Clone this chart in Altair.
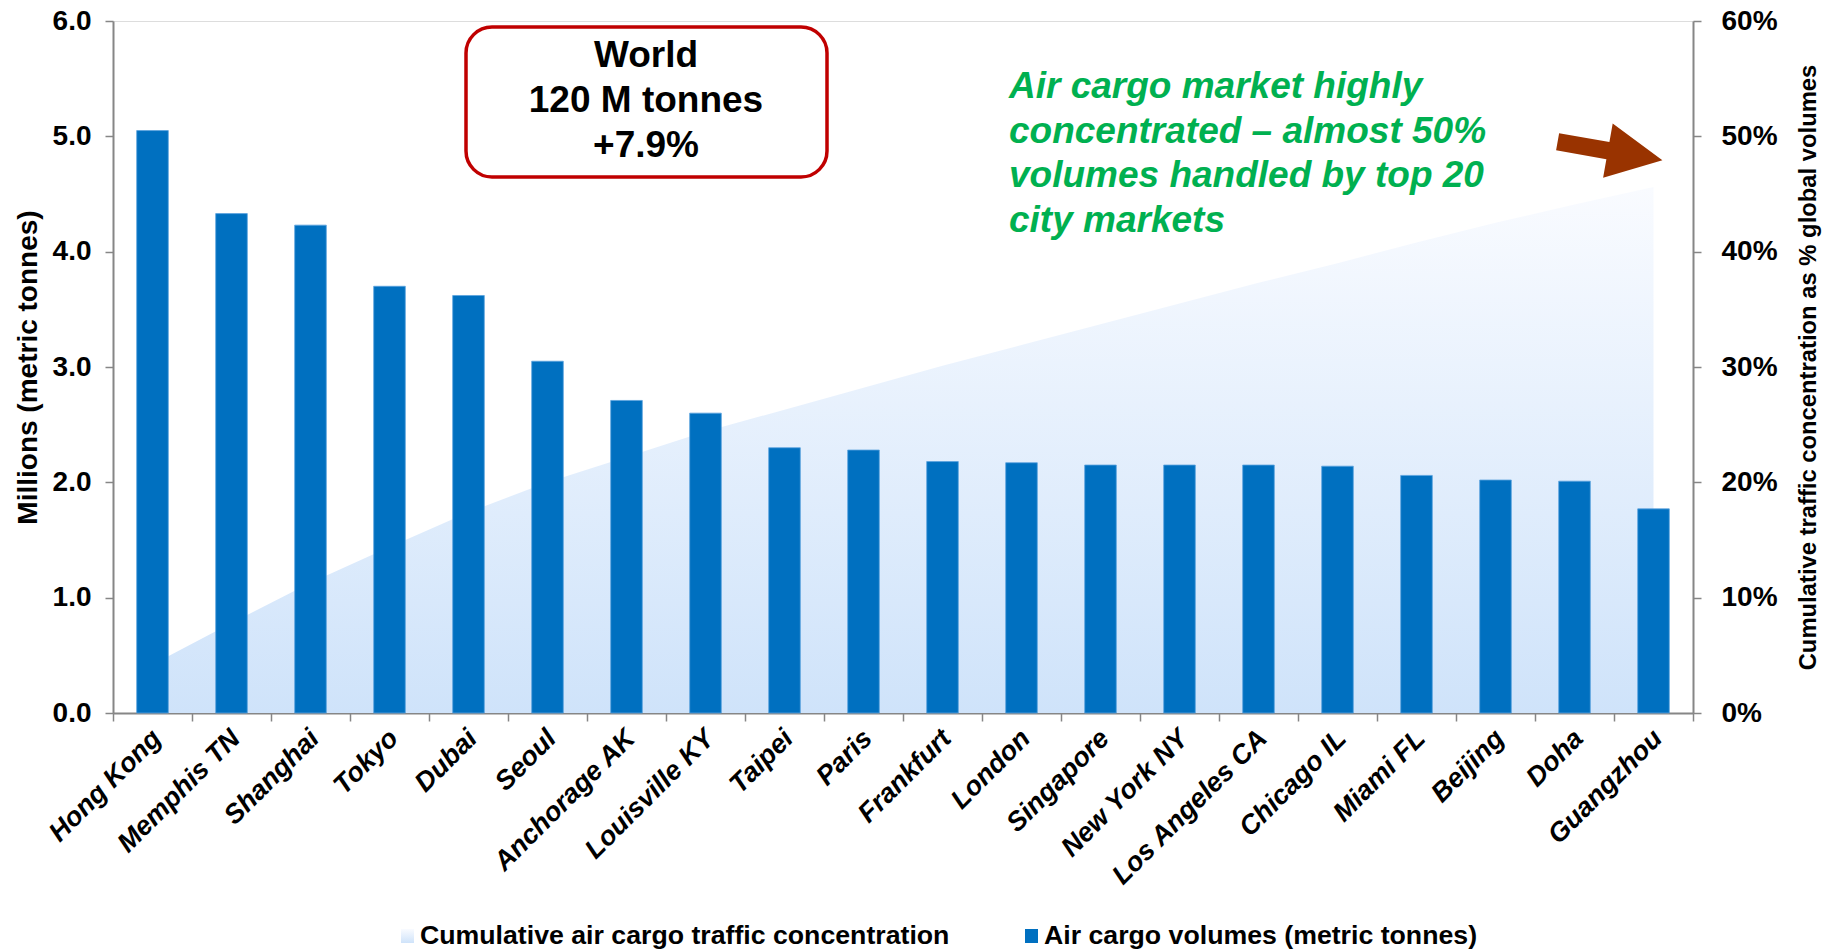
import altair as alt
import pandas as pd

cities = ["Hong Kong", "Memphis TN", "Shanghai", "Tokyo", "Dubai", "Seoul",
          "Anchorage AK", "Louisville KY", "Taipei", "Paris", "Frankfurt", "London",
          "Singapore", "New York NY", "Los Angeles CA", "Chicago IL", "Miami FL",
          "Beijing", "Doha", "Guangzhou"]
volumes = [5.05, 4.33, 4.23, 3.70, 3.62, 3.05, 2.71, 2.60, 2.30, 2.28, 2.18, 2.17,
           2.15, 2.15, 2.15, 2.14, 2.06, 2.02, 2.01, 1.77]
cumulative_pct = [4.2, 7.8, 11.3, 14.4, 17.4, 20.0, 22.2, 24.4, 26.3, 28.2, 30.1, 31.9,
                  33.7, 35.5, 37.3, 39.0, 40.8, 42.5, 44.1, 45.6]

left_ticks = [0, 1, 2, 3, 4, 5, 6]
right_ticks = [0, 10, 20, 30, 40, 50, 60]

world_text = "World\n120 M tonnes\n+7.9%"
note_text = "Air cargo market highly\nconcentrated \u2013 almost 50%\nvolumes handled by top 20\ncity markets"
legend_area_label = "Cumulative air cargo traffic concentration"
legend_bar_label = "Air cargo volumes (metric tonnes)"

df = pd.DataFrame({"city": cities, "volume": volumes, "cum": cumulative_pct})
one = pd.DataFrame({"a": [0]})

FONT = "Liberation Sans"
AXIS_GREY = "#868686"

grad_fill = alt.Gradient(
    gradient="linear",
    stops=[alt.GradientStop(color="#f9fbff", offset=0),
           alt.GradientStop(color="#cfe3fa", offset=1)],
    x1=0, x2=0, y1=0, y2=1,
)

x_enc = alt.X(
    "city:N", sort=cities,
    scale=alt.Scale(paddingInner=0, paddingOuter=0),
    axis=alt.Axis(
        title=None, labelAngle=-45, labelAlign="right", labelBaseline="middle",
        labelFont=FONT, labelFontSize=27, labelFontWeight="bold", labelFontStyle="italic",
        labelColor="black", labelPadding=13, labelOffset=4,
        tickBand="extent", tickSize=8, tickColor=AXIS_GREY, tickWidth=1.5,
        domainColor=AXIS_GREY, domainWidth=2, labelLimit=400,
    ),
)

area = alt.Chart(df).mark_area(color=grad_fill, opacity=1).encode(
    x=x_enc,
    y=alt.Y(
        "cum:Q",
        scale=alt.Scale(domain=[0, 60], nice=False),
        axis=alt.Axis(
            orient="right", values=right_ticks, labelExpr="datum.value + '%'",
            title="Cumulative traffic concentration as % global volumes",
            titleFont=FONT, titleFontSize=23.8, titleFontWeight="bold", titleColor="black",
            titleAngle=-90, titleX=115, titleY=346, titleAlign="center", titleBaseline="middle",
            labelFont=FONT, labelFontSize=28, labelFontWeight="bold", labelColor="black",
            labelPadding=20, tickSize=8, tickColor=AXIS_GREY, tickWidth=1.5,
            domainColor=AXIS_GREY, domainWidth=2, grid=False,
        ),
    ),
)

bars = alt.Chart(df).mark_bar(
    color="#0070c0", width=alt.RelativeBandSize(0.4), stroke="#5aa2de", strokeWidth=0.8
).encode(
    x=x_enc,
    y=alt.Y(
        "volume:Q",
        scale=alt.Scale(domain=[0, 6], nice=False),
        axis=alt.Axis(
            orient="left", values=left_ticks, format=".1f",
            title="Millions (metric tonnes)",
            titleFont=FONT, titleFontSize=28, titleFontWeight="bold", titleColor="black",
            titleAngle=-90, titleX=-85, titleY=346, titleAlign="center", titleBaseline="middle",
            labelFont=FONT, labelFontSize=28, labelFontWeight="bold", labelColor="black",
            labelPadding=14, tickSize=8, tickColor=AXIS_GREY, tickWidth=1.5,
            domainColor=AXIS_GREY, domainWidth=2, grid=False,
        ),
    ),
)

world_box = alt.Chart(one).mark_rect(
    fill="white", stroke="#c00000", strokeWidth=3.5, cornerRadius=26
).encode(x=alt.value(353), x2=alt.value(714), y=alt.value(6), y2=alt.value(156))

world_label = alt.Chart(one).mark_text(
    text=world_text, lineBreak="\n", lineHeight=45, font=FONT, fontSize=37,
    fontWeight="bold", color="black", align="center", baseline="middle",
).encode(x=alt.value(533), y=alt.value(35))

note = alt.Chart(one).mark_text(
    text=note_text, lineBreak="\n", lineHeight=44.5, font=FONT, fontSize=37,
    fontWeight="bold", fontStyle="italic", color="#00b050", align="left", baseline="middle",
).encode(x=alt.value(896), y=alt.value(66))

arrow_path = "M-1,-0.164L-0.04,-0.164L-0.04,-0.519L1,0L-0.04,0.519L-0.04,0.164L-1,0.164Z"
arrow = alt.Chart(one).mark_point(
    shape=arrow_path, filled=True, fill="#993300", strokeWidth=0, opacity=1,
    size=11321, angle=10,
).encode(x=alt.value(1497), y=alt.value(130))

leg_sw1 = alt.Chart(one).mark_rect(fill=grad_fill).encode(
    x=alt.value(288), x2=alt.value(301), y=alt.value(908), y2=alt.value(922))
leg_tx1 = alt.Chart(one).mark_text(
    text=legend_area_label, font=FONT, fontSize=26.7, fontWeight="bold", color="black",
    align="left", baseline="middle",
).encode(x=alt.value(307), y=alt.value(915))
leg_sw2 = alt.Chart(one).mark_rect(fill="#0070c0").encode(
    x=alt.value(912), x2=alt.value(925), y=alt.value(908), y2=alt.value(922))
leg_tx2 = alt.Chart(one).mark_text(
    text=legend_bar_label, font=FONT, fontSize=26.7, fontWeight="bold", color="black",
    align="left", baseline="middle",
).encode(x=alt.value(931), y=alt.value(915))

main = alt.layer(area, bars).resolve_scale(y="independent")

chart = alt.layer(
    main, world_box, world_label, note, arrow, leg_sw1, leg_tx1, leg_sw2, leg_tx2
).properties(
    width=1580, height=692,
    padding={"left": 113, "top": 21, "right": 142, "bottom": 239},
    autosize=alt.AutoSizeParams(type="none"),
).configure_view(stroke=None).configure(background="white")

chart.save("out.html", embed_options={"renderer": "svg", "actions": False})
